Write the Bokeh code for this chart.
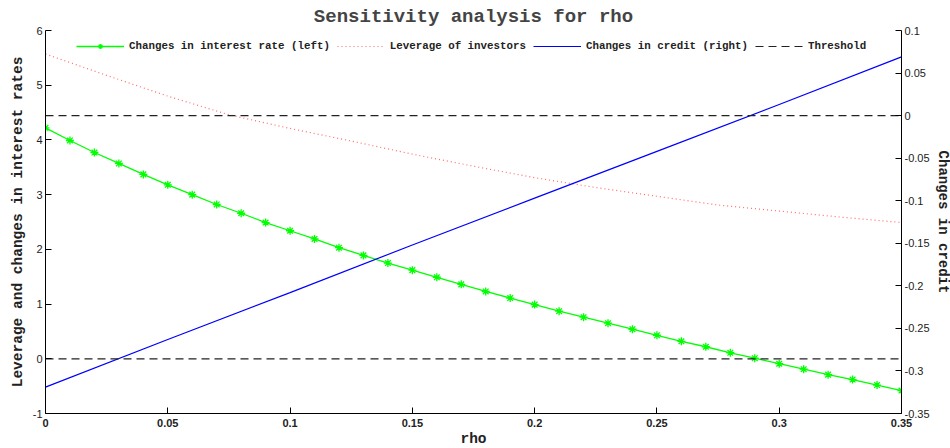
from bokeh.plotting import figure
from bokeh.models import (Range1d, LinearAxis, FixedTicker, NumeralTickFormatter,
                          Legend, LegendItem)
from bokeh.embed import file_html
from bokeh.resources import INLINE

# rho grid of the simulation (markers every 0.01)
rho = [0.00, 0.01, 0.02, 0.03, 0.04, 0.05, 0.06, 0.07, 0.08, 0.09,
       0.10, 0.11, 0.12, 0.13, 0.14, 0.15, 0.16, 0.17, 0.18, 0.19,
       0.20, 0.21, 0.22, 0.23, 0.24, 0.25, 0.26, 0.27, 0.28, 0.29,
       0.30, 0.31, 0.32, 0.33, 0.34, 0.35]
rate_change = [4.22, 3.99, 3.77, 3.57, 3.37, 3.18, 3.00, 2.82, 2.66, 2.49,
               2.34, 2.19, 2.03, 1.89, 1.75, 1.62, 1.49, 1.36, 1.23, 1.11,
               0.99, 0.87, 0.76, 0.65, 0.54, 0.43, 0.32, 0.22, 0.11, 0.01,
               -0.09, -0.19, -0.29, -0.38, -0.48, -0.58]

rho_lev = [0.0, 0.025, 0.05, 0.075, 0.1, 0.125, 0.15, 0.175, 0.2, 0.225,
           0.25, 0.275, 0.3, 0.325, 0.35]
leverage = [5.57, 5.18, 4.80, 4.46, 4.21, 3.98, 3.74, 3.52, 3.31, 3.13,
            2.97, 2.81, 2.70, 2.59, 2.49]

rho_credit = [0.0, 0.05, 0.1, 0.15, 0.2, 0.25, 0.3, 0.35]
credit_change = [-0.319, -0.263, -0.208, -0.152, -0.097, -0.042, 0.013, 0.069]

thr_x = [0.0, 0.35]
thr_y = [0.0, 0.0]

x_ticks = [0, 0.05, 0.1, 0.15, 0.2, 0.25, 0.3, 0.35]
left_ticks = [-1, 0, 1, 2, 3, 4, 5, 6]
right_ticks = [-0.35, -0.3, -0.25, -0.2, -0.15, -0.1, -0.05, 0, 0.05, 0.1]

MONO = "Liberation Mono"
SANS = "Liberation Sans"
FW = 856
FH = 383

p = figure(frame_width=FW, frame_height=FH,
           x_range=Range1d(0, 0.35), y_range=Range1d(-1, 6),
           title="Sensitivity analysis for rho",
           output_backend="svg", toolbar_location=None,
           min_border_left=45, min_border_right=0, min_border_top=30, min_border_bottom=0)
p.extra_y_ranges = {"credit": Range1d(-0.35, 0.1)}
p.outline_line_color = None
p.xgrid.visible = False
p.ygrid.visible = False
p.background_fill_color = "white"
p.border_fill_color = "white"

p.title.text_font = MONO
p.title.text_font_style = "bold"
p.title.text_font_size = "19px"
p.title.align = "center"
p.title.standoff = 6

ax_right = LinearAxis(y_range_name="credit")
p.add_layout(ax_right, "right")

for ax in [p.xaxis[0], p.yaxis[0], ax_right]:
    ax.major_tick_in = 6
    ax.major_tick_out = 0
    ax.minor_tick_in = 0
    ax.minor_tick_out = 0
    ax.axis_line_color = "black"
    ax.major_tick_line_color = "black"
    ax.major_label_text_font = SANS
    ax.major_label_text_font_size = "11px"
    ax.major_label_text_color = "#222222"
    ax.axis_label_text_font = MONO
    ax.axis_label_text_font_style = "bold"
    ax.axis_label_text_font_size = "14.5px"
    ax.axis_label_text_color = "#222222"
    ax.major_label_standoff = 3
    ax.axis_label_standoff = 4
    ax.formatter = NumeralTickFormatter(format="0.[00]")

p.xaxis[0].ticker = FixedTicker(ticks=x_ticks)
p.xaxis[0].major_label_text_font_style = "bold"
p.xaxis[0].axis_label = "rho"
p.xaxis[0].major_label_standoff = 5
p.xaxis[0].axis_label_standoff = 1
p.yaxis[0].ticker = FixedTicker(ticks=left_ticks)
p.yaxis[0].axis_label = "Leverage and changes in interest rates"
ax_right.ticker = FixedTicker(ticks=right_ticks)
ax_right.axis_label = "Changes in credit"
ax_right.axis_label_text_font_size = "14px"
ax_right.axis_label_standoff = 2

g_line = p.line(rho, rate_change, line_color="#00ff00", line_width=1.3)
g_mark = p.scatter(rho, rate_change, marker="asterisk", size=8,
                   line_color="#00ff00", line_width=1.3)
r_line = p.line(rho_lev, leverage, line_color="#ff6a6a", line_width=1.2,
                line_dash="1 3")
b_line = p.line(rho_credit, credit_change, line_color="#0000ff", line_width=1.2,
                y_range_name="credit")
t_left = p.line(thr_x, thr_y, line_color="#222222", line_width=1.2, line_dash="8 5")
t_right = p.line(thr_x, thr_y, line_color="#222222", line_width=1.2, line_dash="8 5",
                 y_range_name="credit")

legend = Legend(items=[
    LegendItem(label="Changes in interest rate (left)", renderers=[g_line, g_mark]),
    LegendItem(label="Leverage of investors", renderers=[r_line]),
    LegendItem(label="Changes in credit (right)", renderers=[b_line]),
    LegendItem(label="Threshold", renderers=[t_left]),
], orientation="horizontal", location=(31, FH - 22),
    glyph_width=48, glyph_height=12, label_height=12, label_standoff=5, spacing=7,
    padding=0, margin=0, border_line_color=None, background_fill_alpha=0,
    label_text_font=MONO, label_text_font_style="bold", label_text_font_size="10.8px",
    label_text_color="#222222")
p.add_layout(legend)

open("out.html", "w").write(file_html(p, INLINE))
